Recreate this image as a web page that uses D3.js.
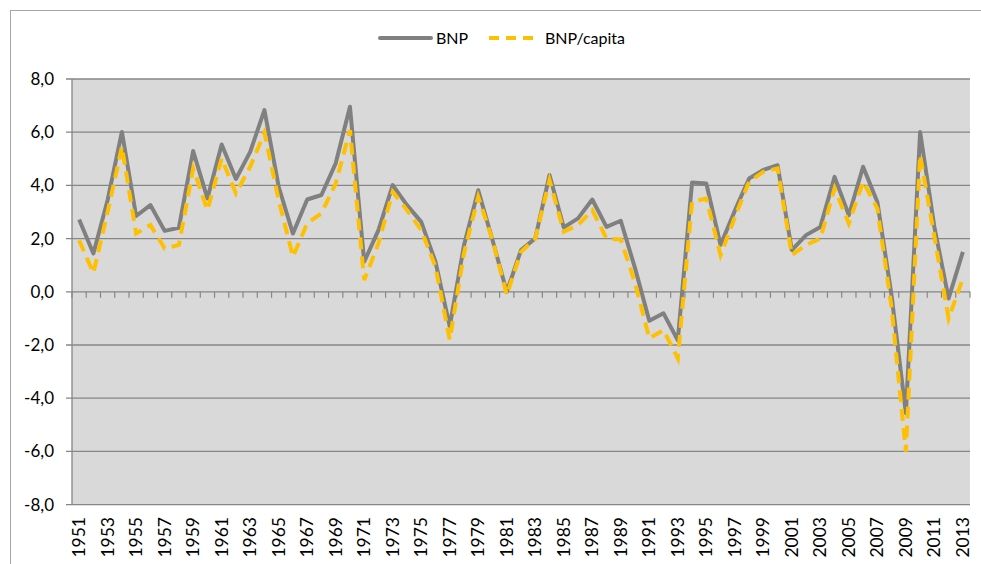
<!DOCTYPE html>
<html>
<head>
<meta charset="utf-8">
<script src="https://cdn.jsdelivr.net/npm/d3@7"></script>
<style>
  body { margin: 0; background: #fff; }
  text { font-family: Lato, "Open Sans", sans-serif; fill: #000; }
</style>
</head>
<body>
<div id="chart"></div>
<script>
// years 1951..2013
const years = d3.range(1951, 2014);

const bnp = [
  2.72, 1.44, 3.45, 6.01, 2.85, 3.26, 2.29, 2.41, 5.29, 3.51,
  5.54, 4.24, 5.26, 6.83, 3.95, 2.19, 3.47, 3.64, 4.83, 6.96,
  1.13, 2.32, 4.01, 3.26, 2.63, 1.13, -1.3, 1.75, 3.82, 1.95,
  0.0, 1.57, 2.01, 4.39, 2.42, 2.76, 3.47, 2.44, 2.67, 0.89,
  -1.09, -0.81, -1.82, 4.11, 4.07, 1.76, 3.05, 4.26, 4.58, 4.76,
  1.57, 2.13, 2.44, 4.32, 2.88, 4.70, 3.38, -0.15, -4.57, 6.01,
  2.44, -0.25, 1.5
];

const bnpCapita = [
  1.94, 0.71, 3.0, 5.45, 2.19, 2.51, 1.63, 1.76, 4.64, 3.07,
  5.01, 3.70, 4.70, 5.98, 3.45, 1.32, 2.58, 2.95, 4.07, 6.08,
  0.44, 1.82, 3.76, 3.07, 2.32, 0.94, -1.8, 1.45, 3.57, 1.95,
  -0.12, 1.5, 2.0, 4.2, 2.26, 2.51, 3.07, 2.0, 1.97, 0.33,
  -1.75, -1.44, -2.5, 3.38, 3.51, 1.38, 2.8, 4.14, 4.51, 4.64,
  1.38, 1.76, 2.0, 3.89, 2.57, 4.14, 3.13, -0.6, -6.01, 5.14,
  2.07, -1.0, 0.5
];

const yTicks = [-8, -6, -4, -2, 0, 2, 4, 6, 8];

const w = 981, h = 564;
const plotLeft = 72, plotRight = 970, plotTop = 79, plotBottom = 504.6;

const svg = d3.select("#chart").append("svg")
  .attr("width", w).attr("height", h);

// chart frame
svg.append("rect")
  .attr("x", 10.5).attr("y", 10.5)
  .attr("width", w + 10).attr("height", h + 10)
  .attr("fill", "none").attr("stroke", "#a6a6a6");

const x = d3.scaleBand().domain(years).range([plotLeft, plotRight]).padding(0);
const y = d3.scaleLinear().domain([-8, 8]).range([plotBottom, plotTop]);

// plot background
svg.append("rect")
  .attr("x", plotLeft).attr("y", plotTop)
  .attr("width", plotRight - plotLeft).attr("height", plotBottom - plotTop)
  .attr("fill", "#d9d9d9");

// gridlines
svg.append("g").selectAll("line")
  .data(yTicks).enter().append("line")
  .attr("x1", plotLeft - 6).attr("x2", plotRight)
  .attr("y1", d => y(d)).attr("y2", d => y(d))
  .attr("stroke", "#868686").attr("stroke-width", 1.3);

// y axis line
svg.append("line")
  .attr("x1", plotLeft).attr("x2", plotLeft)
  .attr("y1", plotTop).attr("y2", plotBottom)
  .attr("stroke", "#868686").attr("stroke-width", 1.3);

// y labels
svg.append("g").selectAll("text")
  .data(yTicks).enter().append("text")
  .attr("x", 54).attr("y", d => y(d) + 6)
  .attr("text-anchor", "end")
  .style("font-size", "17px")
  .text(d => d3.format(".1f")(d).replace(".", ",").replace("−", "-"));

// category ticks on zero line
svg.append("g").selectAll("line")
  .data(years.concat([2014])).enter().append("line")
  .attr("x1", d => d === 2014 ? plotRight : x(d))
  .attr("x2", d => d === 2014 ? plotRight : x(d))
  .attr("y1", y(0)).attr("y2", y(0) + 6)
  .attr("stroke", "#868686").attr("stroke-width", 1.2);

// x labels (every second year)
svg.append("g").selectAll("text")
  .data(years.filter((d, i) => i % 2 === 0)).enter().append("text")
  .attr("transform", d => `translate(${x(d) + x.bandwidth() / 2 + 6},517) rotate(-90)`)
  .attr("text-anchor", "end")
  .style("font-size", "17.5px")
  .text(d => d);

const line = d3.line()
  .x((d, i) => x(years[i]) + x.bandwidth() / 2)
  .y(d => y(d));

svg.append("path")
  .datum(bnp)
  .attr("d", line)
  .attr("fill", "none")
  .attr("stroke", "#808080")
  .attr("stroke-width", 4)
  .attr("stroke-linejoin", "round");

svg.append("path")
  .datum(bnpCapita)
  .attr("d", line)
  .attr("fill", "none")
  .attr("stroke", "#ffc000")
  .attr("stroke-width", 4)
  .attr("stroke-dasharray", "12,7");

// legend
const legend = svg.append("g").attr("id", "legend");
legend.append("line")
  .attr("x1", 380).attr("x2", 431).attr("y1", 38).attr("y2", 38)
  .attr("stroke", "#808080").attr("stroke-width", 4).attr("stroke-linecap", "round");
legend.append("text")
  .attr("x", 436).attr("y", 44).style("font-size", "16px").text("BNP");
legend.append("line")
  .attr("x1", 489).attr("x2", 535).attr("y1", 38).attr("y2", 38)
  .attr("stroke", "#ffc000").attr("stroke-width", 4).attr("stroke-dasharray", "10,7");
legend.append("text")
  .attr("x", 545).attr("y", 44).style("font-size", "16px").text("BNP/capita");
</script>
</body>
</html>
